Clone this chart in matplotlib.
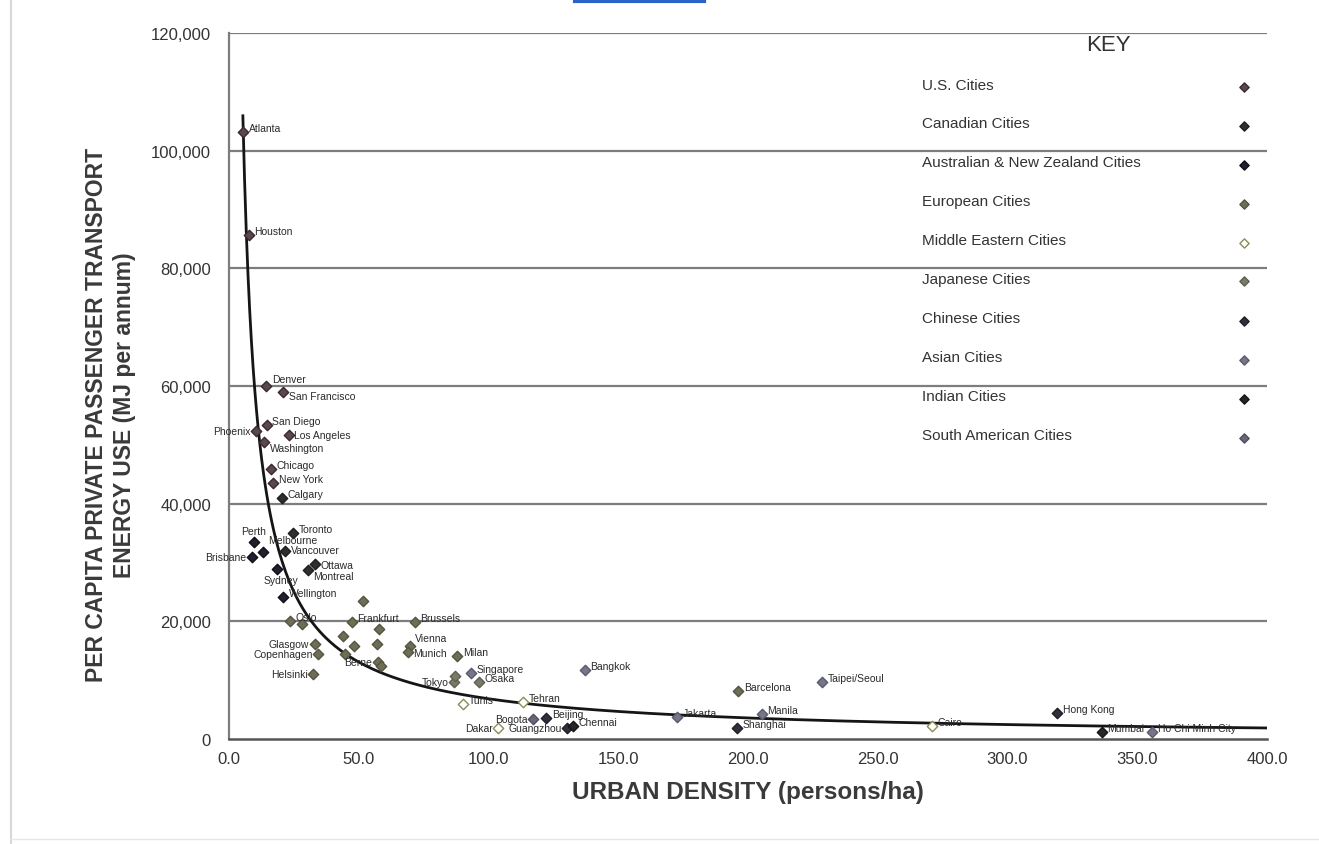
import matplotlib.pyplot as plt
import numpy as np
from matplotlib.lines import Line2D

plt.rcParams['font.family'] = ['Liberation Sans', 'DejaVu Sans']

# urban density (persons/ha) vs private passenger transport energy (MJ per person per year)
us_names = ['Atlanta', 'Houston', 'Denver', 'San Francisco', 'Phoenix', 'San Diego',
            'Los Angeles', 'Washington', 'Chicago', 'New York']
us_density = [5.4, 7.7, 14.3, 20.8, 10.4, 14.6, 23.1, 13.5, 16.2, 17.0]
us_energy = [103100, 85600, 59980, 58960, 52330, 53350, 51650, 50460, 45870, 43490]

can_names = ['Calgary', 'Toronto', 'Vancouver', 'Ottawa', 'Montreal']
can_density = [20.4, 24.7, 21.6, 33.1, 30.4]
can_energy = [40940, 35000, 31940, 29730, 28710]

anz_names = ['Perth', 'Melbourne', 'Brisbane', 'Sydney', 'Wellington']
anz_density = [9.6, 13.1, 8.9, 18.5, 20.8]
anz_energy = [33470, 31770, 30920, 28880, 24130]

eu_names = ['Oslo', '', 'Frankfurt', 'Brussels', '', '', '', 'Glasgow', 'Copenhagen',
            'Helsinki', '', '', 'Berne', 'Vienna', 'Munich', 'Milan', '', '', 'Barcelona']
eu_density = [23.5, 28.1, 47.4, 71.7, 51.6, 57.8, 43.9, 33.1, 34.3,
              32.4, 57.0, 44.7, 57.4, 69.7, 69.0, 87.9, 48.2, 58.6, 196.2]
eu_energy = [20050, 19540, 19880, 19880, 23450, 18690, 17500, 16140, 14440,
             11040, 16140, 14440, 13080, 15800, 14780, 14100, 15800, 12400, 8150]

me_names = ['Tehran', 'Cairo', 'Tunis', 'Dakar']
me_density = [113.3, 270.9, 90.2, 103.7]
me_energy = [6290, 2210, 5950, 1870]

jp_names = ['Tokyo', 'Osaka', '']
jp_density = [86.7, 96.3, 87.1]
jp_energy = [9680, 9680, 10700]

cn_names = ['Beijing', 'Shanghai', 'Guangzhou', 'Hong Kong']
cn_density = [122.2, 195.8, 130.3, 319.1]
cn_energy = [3570, 1870, 1870, 4420]

as_names = ['Singapore', 'Bangkok', 'Jakarta', 'Manila', 'Taipei/Seoul', 'Ho Chi Minh City']
as_density = [93.3, 137.2, 172.6, 205.4, 228.5, 355.7]
as_energy = [11210, 11720, 3740, 4250, 9680, 1190]

in_names = ['Chennai', 'Mumbai']
in_density = [132.6, 336.4]
in_energy = [2210, 1190]

sa_names = ['Bogota']
sa_density = [117.1]
sa_energy = [3400]

key_labels = ['U.S. Cities', 'Canadian Cities', 'Australian & New Zealand Cities',
              'European Cities', 'Middle Eastern Cities', 'Japanese Cities',
              'Chinese Cities', 'Asian Cities', 'Indian Cities', 'South American Cities']

# power-law trend line: energy = a * density^b
trend_a = 509000
trend_b = -0.936

x_ticks = [0, 50, 100, 150, 200, 250, 300, 350, 400]
y_ticks = [0, 20000, 40000, 60000, 80000, 100000, 120000]

# face, edge per group
styles = [('#5b4750', '#3a2a30'), ('#2e2e2e', '#1e1e1e'), ('#20202e', '#101018'),
          ('#6e6e58', '#55553f'), ('white', '#8c8c55'), ('#7a7a68', '#5f5f50'),
          ('#30303c', '#1f1f28'), ('#76768a', '#5a5a6c'), ('#262626', '#151515'),
          ('#68687a', '#4e4e5e')]

groups = [(us_names, us_density, us_energy), (can_names, can_density, can_energy),
          (anz_names, anz_density, anz_energy), (eu_names, eu_density, eu_energy),
          (me_names, me_density, me_energy), (jp_names, jp_density, jp_energy),
          (cn_names, cn_density, cn_energy), (as_names, as_density, as_energy),
          (in_names, in_density, in_energy), (sa_names, sa_density, sa_energy)]

# labels written on the left side of their marker
left_labels = {'Phoenix', 'Brisbane', 'Glasgow', 'Copenhagen', 'Helsinki', 'Berne',
               'Tokyo', 'Dakar', 'Bogota', 'Guangzhou'}
# labels nudged away from crowded neighbours: (dx, dy, ha) in points
nudged = {'Denver': (4, 5, 'left'), 'San Francisco': (4, -3, 'left'),
          'Los Angeles': (4, 0, 'left'), 'Washington': (4, -4, 'left'),
          'Perth': (0, 8, 'center'), 'Melbourne': (4, 9, 'left'),
          'Vancouver': (4, 1, 'left'), 'Sydney': (3, -8, 'center'),
          'Ottawa': (4, -1, 'left'), 'Montreal': (4, -4, 'left'),
          'Vienna': (4, 6, 'left'), 'Munich': (4, -1, 'left')}

fig = plt.figure(figsize=(13.19, 8.45), dpi=100)
ax = fig.add_axes([0.1736, 0.1243, 0.7870, 0.8355])

for y in y_ticks[1:]:
    ax.axhline(y, color='#7d7d7d', lw=1.6, zorder=1)

for (names, dens, energy), (face, edge) in zip(groups, styles):
    ax.scatter(dens, energy, marker='D', s=28, facecolor=face, edgecolor=edge,
               linewidths=1.0, zorder=3)
    for name, xv, yv in zip(names, dens, energy):
        if not name:
            continue
        if name in nudged:
            dx, dy, ha = nudged[name]
        elif name in left_labels:
            dx, dy, ha = -4, 0, 'right'
        else:
            dx, dy, ha = 4, 3, 'left'
        ax.annotate(name, (xv, yv), xytext=(dx, dy), textcoords='offset points',
                    ha=ha, va='center', fontsize=7.5, color='#2a2a2a', zorder=4)

xs = np.linspace(5.35, 400, 600)
ax.plot(xs, trend_a * xs ** trend_b, color='#151515', lw=2.0, zorder=2)

ax.set_xlim(0, 400)
ax.set_ylim(0, 120000)
ax.set_xticks(x_ticks)
ax.set_xticklabels([f'{v:.1f}' for v in x_ticks])
ax.set_yticks(y_ticks)
ax.set_yticklabels([f'{v:,.0f}' for v in y_ticks])
ax.tick_params(length=0, labelsize=12, labelcolor='#333333')
ax.tick_params(axis='x', pad=9)
ax.tick_params(axis='y', pad=13)

for side in ['top', 'right']:
    ax.spines[side].set_visible(False)
ax.spines['left'].set_color('#7d7d7d')
ax.spines['left'].set_linewidth(1.6)
ax.spines['bottom'].set_color('#555555')
ax.spines['bottom'].set_linewidth(1.8)

ax.set_xlabel('URBAN DENSITY (persons/ha)', fontsize=17.5, fontweight='bold',
              color='#3a3a3a', labelpad=10)
ax.set_ylabel('PER CAPITA PRIVATE PASSENGER TRANSPORT\nENERGY USE (MJ per annum)',
              fontsize=16.5, fontweight='bold', color='#3a3a3a', linespacing=1.25)
ax.yaxis.set_label_coords(-0.090, 0.46)

# key drawn straight onto the axes, gridlines show through it
ax.text(0.847, 0.983, 'KEY', transform=ax.transAxes, ha='center', va='center',
        fontsize=16, color='#333333')
key_y = [0.927, 0.872, 0.817, 0.762, 0.707, 0.652, 0.596, 0.541, 0.486, 0.431]
for label, ky, (face, edge) in zip(key_labels, key_y, styles):
    ax.text(0.668, ky, label, transform=ax.transAxes, ha='left', va='center',
            fontsize=11, color='#333333')
    ax.scatter([0.978], [ky - 0.004], transform=ax.transAxes, marker='D', s=22,
               facecolor=face, edgecolor=edge, linewidths=1.0, zorder=3, clip_on=False)

# page edge and link underline around the chart
fig.add_artist(Line2D([0.008, 0.008], [0.0, 1.0], color='#d8d8d8', lw=1.5))
fig.add_artist(Line2D([0.008, 1.0], [0.006, 0.006], color='#e6e6e6', lw=1.0))
fig.add_artist(Line2D([0.436, 0.534], [0.998, 0.998], color='#2a62c9', lw=3))

fig.savefig('out.png', dpi=100)
